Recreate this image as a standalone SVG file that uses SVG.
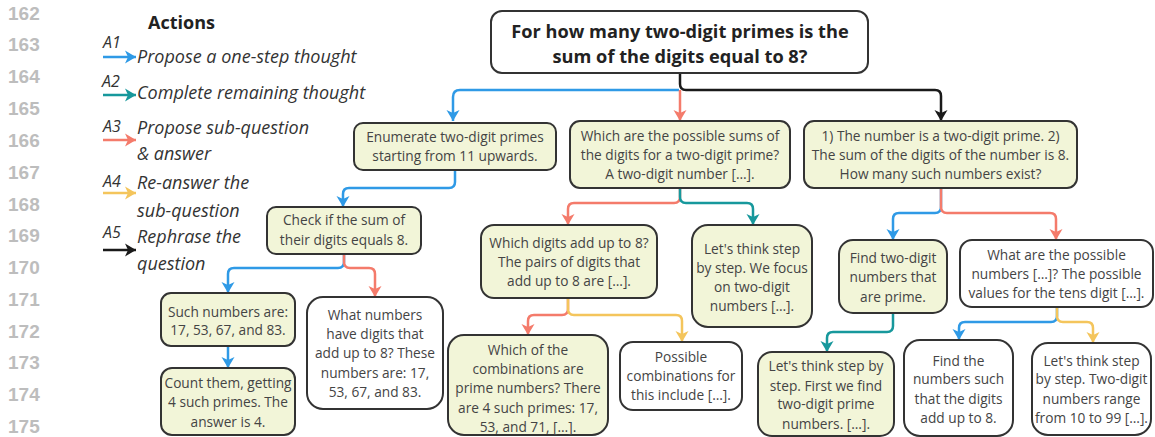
<svg xmlns="http://www.w3.org/2000/svg" width="1155" height="437" viewBox="0 0 1155 437">
<style>
.ln{font-family:"Liberation Sans",Arial,sans-serif;font-weight:bold;font-size:19px;fill:#bdbdbd}
.lg{font-family:"Open Sans",sans-serif;font-style:italic;font-size:18px;fill:#333}
.lb{font-family:"Open Sans",sans-serif;font-style:italic;font-size:16px;fill:#333}
.hd{font-family:"Open Sans",sans-serif;font-weight:bold;font-size:18px;fill:#222}
.nd{stroke:#333;stroke-width:2}
.g{fill:#f2f5d8}
.w{fill:#fff}
.t{font-family:"Open Sans",sans-serif;font-size:13.7px;fill:#444;text-anchor:middle}
.rt{font-family:"Open Sans",sans-serif;font-weight:bold;font-size:18.2px;fill:#222;text-anchor:middle}
.c{fill:none;stroke-width:2.5;stroke-linejoin:round}
.b{stroke:#2f9ae6}.r{stroke:#f47b6b}.k{stroke:#1a1a1a}.tl{stroke:#17989c}.y{stroke:#f4c55c}
</style>
<defs>
<marker id="mb" markerUnits="userSpaceOnUse" markerWidth="14" markerHeight="14" refX="11" refY="7" orient="auto"><path d="M0,0.5 L11,7 L0,13.5 L3,7 Z" fill="#2f9ae6"/></marker>
<marker id="mr" markerUnits="userSpaceOnUse" markerWidth="14" markerHeight="14" refX="11" refY="7" orient="auto"><path d="M0,0.5 L11,7 L0,13.5 L3,7 Z" fill="#f47b6b"/></marker>
<marker id="mk" markerUnits="userSpaceOnUse" markerWidth="14" markerHeight="14" refX="11" refY="7" orient="auto"><path d="M0,0.5 L11,7 L0,13.5 L3,7 Z" fill="#1a1a1a"/></marker>
<marker id="mt" markerUnits="userSpaceOnUse" markerWidth="14" markerHeight="14" refX="11" refY="7" orient="auto"><path d="M0,0.5 L11,7 L0,13.5 L3,7 Z" fill="#17989c"/></marker>
<marker id="my" markerUnits="userSpaceOnUse" markerWidth="14" markerHeight="14" refX="11" refY="7" orient="auto"><path d="M0,0.5 L11,7 L0,13.5 L3,7 Z" fill="#f4c55c"/></marker>
</defs>
<rect width="1155" height="437" fill="#fff"/>
<g id="line-numbers">
<text class="ln" x="8" y="20">162</text>
<text class="ln" x="8" y="51">163</text>
<text class="ln" x="8" y="83">164</text>
<text class="ln" x="8" y="115">165</text>
<text class="ln" x="8" y="147">166</text>
<text class="ln" x="8" y="179">167</text>
<text class="ln" x="8" y="211">168</text>
<text class="ln" x="8" y="242">169</text>
<text class="ln" x="8" y="274">170</text>
<text class="ln" x="8" y="306">171</text>
<text class="ln" x="8" y="338">172</text>
<text class="ln" x="8" y="369">173</text>
<text class="ln" x="8" y="401">174</text>
<text class="ln" x="8" y="433">175</text>
</g>
<g id="legend">
<text class="hd" x="148" y="29">Actions</text>
<text class="lb" x="103" y="48">A1</text>
<path class="c b" d="M103,57 H136" marker-end="url(#mb)"/>
<text class="lg" x="137" y="63">Propose a one-step thought</text>
<text class="lb" x="102" y="87">A2</text>
<path class="c tl" d="M103,95 H136" marker-end="url(#mt)"/>
<text class="lg" x="137" y="99">Complete remaining thought</text>
<text class="lb" x="103" y="132">A3</text>
<path class="c r" d="M103,140 H136" marker-end="url(#mr)"/>
<text class="lg" x="137" y="134">Propose sub-question</text>
<text class="lg" x="137" y="160">&amp; answer</text>
<text class="lb" x="103" y="187">A4</text>
<path class="c y" d="M103,193 H136" marker-end="url(#my)"/>
<text class="lg" x="137" y="189">Re-answer the</text>
<text class="lg" x="137" y="217">sub-question</text>
<text class="lb" x="103" y="238">A5</text>
<path class="c k" d="M103,250 H136" marker-end="url(#mk)"/>
<text class="lg" x="137" y="243">Rephrase the</text>
<text class="lg" x="137" y="270">question</text>
</g>
<g id="connectors">
<path class="c k" d="M680,73 V84 Q680,90 686,90 H935 Q941,90 941,96 V121" marker-end="url(#mk)"/>
<path class="c b" d="M679,90 H460 Q453,90 453,97 V121" marker-end="url(#mb)"/>
<path class="c r" d="M680,90 V121" marker-end="url(#mr)"/>
<path class="c b" d="M455,170 V182 Q455,188 449,188 H349 Q343,188 343,194 V207" marker-end="url(#mb)"/>
<path class="c b" d="M344,254 V262 Q344,268 338,268 H234 Q228,268 228,274 V293" marker-end="url(#mb)"/>
<path class="c r" d="M344,254 V262 Q344,268 350,268 H369 Q375,268 375,274 V297" marker-end="url(#mr)"/>
<path class="c b" d="M228,346 V368" marker-end="url(#mb)"/>
<path class="c r" d="M680,188 V197 Q680,203 674,203 H574 Q568,203 568,209 V225" marker-end="url(#mr)"/>
<path class="c tl" d="M680,188 V197 Q680,203 686,203 H747 Q753,203 753,209 V225" marker-end="url(#mt)"/>
<path class="c r" d="M568,298 V309 Q568,315 562,315 H534 Q528,315 528,321 V335" marker-end="url(#mr)"/>
<path class="c y" d="M568,298 V309 Q568,315 574,315 H676 Q682,315 682,321 V342" marker-end="url(#my)"/>
<path class="c b" d="M941,188 V207 Q941,213 935,213 H899 Q893,213 893,219 V240" marker-end="url(#mb)"/>
<path class="c r" d="M941,188 V207 Q941,213 947,213 H1050 Q1056,213 1056,219 V240" marker-end="url(#mr)"/>
<path class="c tl" d="M893,313 V326 Q893,332 887,332 H833 Q827,332 827,338 V352" marker-end="url(#mt)"/>
<path class="c b" d="M1057,307 V316 Q1057,322 1051,322 H965 Q959,322 959,328 V340" marker-end="url(#mb)"/>
<path class="c y" d="M1057,307 V316 Q1057,322 1063,322 H1087 Q1093,322 1093,328 V343" marker-end="url(#my)"/>
</g>
<g id="root"><rect class="nd w" x="491" y="11" width="377" height="62" rx="11"/>
<text class="rt" x="680" y="38">For how many two-digit primes is the</text>
<text class="rt" x="680" y="63">sum of the digits equal to 8?</text></g>
<g id="n-enumerate"><rect class="nd g" x="354" y="123" width="202" height="47" rx="9"/>
<text class="t" x="455" y="142">Enumerate two-digit primes</text>
<text class="t" x="455" y="161">starting from 11 upwards.</text></g>
<g id="n-sums"><rect class="nd g" x="570" y="121" width="220" height="67" rx="10"/>
<text class="t" x="680" y="141">Which are the possible sums of</text>
<text class="t" x="680" y="160">the digits for a two-digit prime?</text>
<text class="t" x="680" y="179">A two-digit number […].</text></g>
<g id="n-rephrase"><rect class="nd g" x="804" y="121" width="273" height="67" rx="10"/>
<text class="t" x="940.5" y="141">1) The number is a two-digit prime. 2)</text>
<text class="t" x="940.5" y="160">The sum of the digits of the number is 8.</text>
<text class="t" x="940.5" y="179">How many such numbers exist?</text></g>
<g id="n-check"><rect class="nd g" x="267" y="207" width="154" height="47" rx="9"/>
<text class="t" x="344" y="225">Check if the sum of</text>
<text class="t" x="344" y="245">their digits equals 8.</text></g>
<g id="n-such"><rect class="nd g" x="161" y="293" width="134" height="53" rx="10"/>
<text class="t" x="228" y="317">Such numbers are:</text>
<text class="t" x="228" y="335">17, 53, 67, and 83.</text></g>
<g id="n-count"><rect class="nd g" x="161" y="368" width="134" height="67" rx="11"/>
<text class="t" x="228" y="388">Count them, getting</text>
<text class="t" x="228" y="407">4 such primes. The</text>
<text class="t" x="228" y="427">answer is 4.</text></g>
<g id="n-whatnumbers"><rect class="nd w" x="307" y="297" width="136" height="112" rx="16"/>
<text class="t" x="375" y="320">What numbers</text>
<text class="t" x="375" y="339">have digits that</text>
<text class="t" x="375" y="358">add up to 8? These</text>
<text class="t" x="375" y="378">numbers are: 17,</text>
<text class="t" x="375" y="397">53, 67, and 83.</text></g>
<g id="n-whichdigits"><rect class="nd g" x="481" y="225" width="176" height="73" rx="13"/>
<text class="t" x="569" y="248">Which digits add up to 8?</text>
<text class="t" x="569" y="267">The pairs of digits that</text>
<text class="t" x="569" y="286">add up to 8 are […].</text></g>
<g id="n-focus"><rect class="nd g" x="692" y="225" width="120" height="102" rx="16"/>
<text class="t" x="752" y="254">Let's think step</text>
<text class="t" x="752" y="273">by step. We focus</text>
<text class="t" x="752" y="292">on two-digit</text>
<text class="t" x="752" y="311">numbers […].</text></g>
<g id="n-combos"><rect class="nd g" x="448" y="335" width="160" height="100" rx="16"/>
<text class="t" x="528" y="355">Which of the</text>
<text class="t" x="528" y="374">combinations are</text>
<text class="t" x="528" y="393">prime numbers? There</text>
<text class="t" x="528" y="413">are 4 such primes: 17,</text>
<text class="t" x="528" y="432">53, and 71, […].</text></g>
<g id="n-possible"><rect class="nd w" x="620" y="342" width="122" height="68" rx="13"/>
<text class="t" x="681" y="362">Possible</text>
<text class="t" x="681" y="381">combinations for</text>
<text class="t" x="681" y="400">this include […].</text></g>
<g id="n-findprime"><rect class="nd g" x="839" y="240" width="108" height="73" rx="14"/>
<text class="t" x="893" y="263">Find two-digit</text>
<text class="t" x="893" y="282">numbers that</text>
<text class="t" x="893" y="302">are prime.</text></g>
<g id="n-whatare"><rect class="nd w" x="960" y="240" width="193" height="67" rx="12"/>
<text class="t" x="1056.5" y="260">What are the possible</text>
<text class="t" x="1056.5" y="279">numbers […]? The possible</text>
<text class="t" x="1056.5" y="298">values for the tens digit […].</text></g>
<g id="n-first"><rect class="nd g" x="758" y="352" width="136" height="84" rx="14"/>
<text class="t" x="826" y="371">Let's think step by</text>
<text class="t" x="826" y="391">step. First we find</text>
<text class="t" x="826" y="409">two-digit prime</text>
<text class="t" x="826" y="429">numbers. […].</text></g>
<g id="n-findthe"><rect class="nd w" x="904" y="340" width="109" height="96" rx="16"/>
<text class="t" x="958.5" y="366">Find the</text>
<text class="t" x="958.5" y="384">numbers such</text>
<text class="t" x="958.5" y="404">that the digits</text>
<text class="t" x="958.5" y="423">add up to 8.</text></g>
<g id="n-range"><rect class="nd w" x="1032" y="343" width="119" height="92" rx="16"/>
<text class="t" x="1091.5" y="366">Let's think step</text>
<text class="t" x="1091.5" y="384">by step. Two-digit</text>
<text class="t" x="1091.5" y="404">numbers range</text>
<text class="t" x="1091.5" y="423">from 10 to 99 […].</text></g>
</svg>
